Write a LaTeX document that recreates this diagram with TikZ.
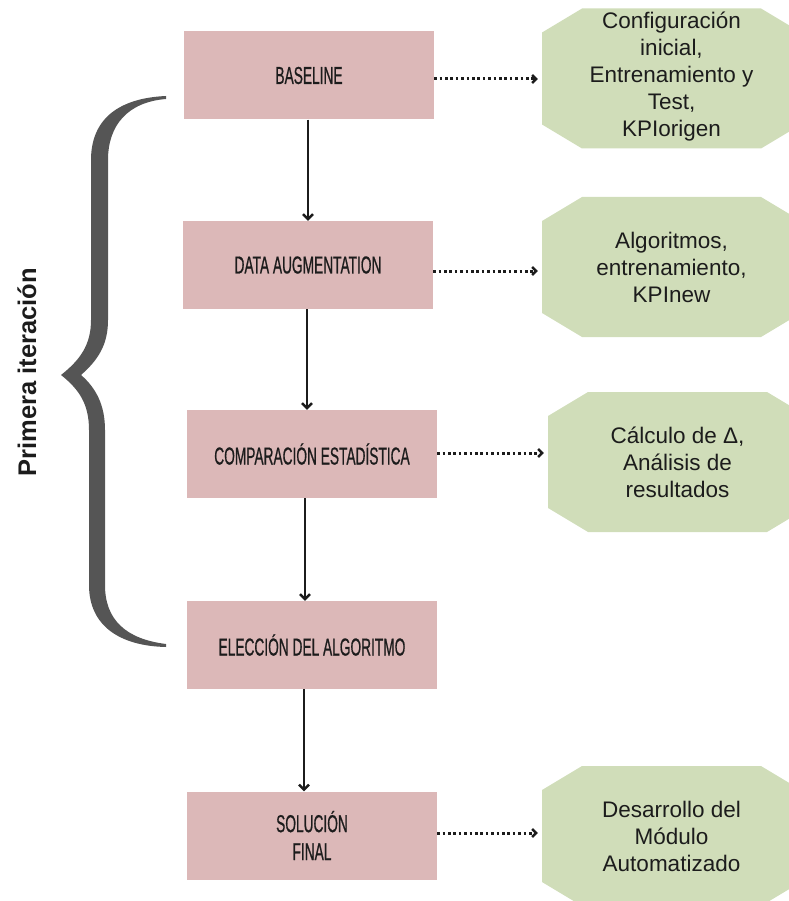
\documentclass[tikz,border=0pt]{standalone}
\usepackage{fontspec}
\setmainfont{Liberation Sans}
\newfontfamily\condfont[FakeStretch=0.56,FakeBold=0.6]{Liberation Sans}
\usetikzlibrary{arrows.meta,calc}

\definecolor{stepfill}{HTML}{DCB8B8}
\definecolor{notefill}{HTML}{D0DDB9}
\definecolor{bracegray}{HTML}{555555}
\definecolor{inkcol}{HTML}{1C1C1C}

\begin{document}
\begin{tikzpicture}[x=1pt,y=-1pt,
  stepbox/.style={rectangle, fill=stepfill, minimum width=250pt, minimum height=88pt,
    inner sep=0pt, align=center, text=inkcol,
    font=\condfont\fontsize{24.5}{28}\selectfont},
  notetext/.style={rectangle, minimum width=259pt, minimum height=140pt, inner sep=0pt,
    align=center, text=inkcol, font=\fontsize{22.5}{27}\selectfont},
  octa/.pic={\fill[notefill] (-89.5,-70) -- (89.5,-70) -- (129.5,-46) -- (129.5,46)
    -- (89.5,70) -- (-89.5,70) -- (-129.5,46) -- (-129.5,-46) -- cycle;},
  flow/.style={-{Straight Barb[length=5pt,width=10pt,line width=2.4pt]}, line width=2.2pt, inkcol},
  link/.style={-{Straight Barb[length=4pt,width=8pt,line width=2.4pt]}, line width=3pt,
    dash pattern=on 2.6pt off 2.8pt, inkcol, shorten >=4pt}
]
\useasboundingbox (0,0) rectangle (788,901);

% green notes (octagons behind their texts)
\pic at (671.5,78.5) {octa};
\pic at (671.5,267) {octa};
\pic at (677.5,462) {octa};
\pic at (671.5,836) {octa};

\node[notetext] (o1) at (671.5,77) {Configuración\\inicial,\\Entrenamiento y\\Test,\\KPIorigen};
\node[notetext] (o2) at (671.5,267) {Algoritmos,\\entrenamiento,\\KPInew};
\node[notetext] (o3) at (677.5,462) {Cálculo de Δ,\\Análisis de\\resultados};
\node[notetext] (o4) at (671.5,836) {Desarrollo del\\Módulo\\Automatizado};

% process steps
\node[stepbox] (b1) at (309,75.5) {BASELINE};
\node[stepbox] (b2) at (308,265) {DATA AUGMENTATION};
\node[stepbox] (b3) at (312,454) {COMPARACIÓN ESTADÍSTICA};
\node[stepbox] (b4) at (312,645) {ELECCIÓN DEL ALGORITMO};
\node[stepbox] (b5) at (312,835.5) {SOLUCIÓN\\FINAL};

% main flow
\draw[flow] ([xshift=-1pt]b1.south) -- ([xshift=-1pt]b1.south |- b2.north);
\draw[flow] ([xshift=-1pt]b2.south) -- ([xshift=-1pt]b2.south |- b3.north);
\draw[flow] ([xshift=-7pt]b3.south) -- ([xshift=-7pt]b3.south |- b4.north);
\draw[flow] ([xshift=-8pt]b4.south) -- ([xshift=-8pt]b4.south |- b5.north);

% links to the notes
\draw[link] ([yshift=-3.5pt]b1.east) -- ([yshift=-3.5pt]b1.east -| o1.west);
\draw[link] ([yshift=-6pt]b2.east) -- ([yshift=-6pt]b2.east -| o2.west);
\draw[link] ([yshift=1pt]b3.east) -- ([yshift=1pt]b3.east -| o3.west);
\draw[link] ([yshift=2.5pt]b5.east) -- ([yshift=2.5pt]b5.east -| o4.west);

% curly brace over the first iteration
\fill[bracegray] (166,96)
  .. controls (120,98) and (91,118) .. (91,160) -- (91,320)
  .. controls (91,345) and (80,360) .. (61,375)
  .. controls (80,390) and (89,405) .. (89,430) -- (89,585)
  .. controls (89,626) and (120,646) .. (166,647)
  -- (166,644)
  .. controls (126,639) and (105,620) .. (105,585) -- (105,430)
  .. controls (105,405) and (96,388) .. (81,375)
  .. controls (98,360) and (108,345) .. (108,320) -- (108,160)
  .. controls (108,125) and (128,102) .. (166,99) -- cycle;

\node[rotate=90, text=inkcol, font=\bfseries\fontsize{25.5}{30}\selectfont] (lbl) at (27,372) {Primera iteración};
\end{tikzpicture}
\end{document}
